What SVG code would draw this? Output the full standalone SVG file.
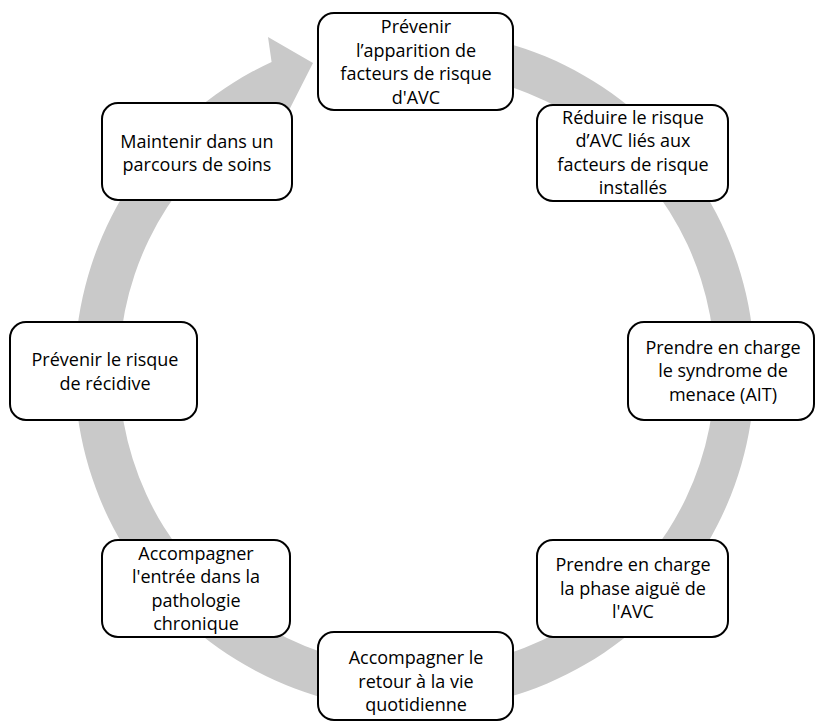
<svg xmlns="http://www.w3.org/2000/svg" width="815" height="722" viewBox="0 0 815 722">
<style>
.box{fill:#ffffff;stroke:#000000;stroke-width:2}
text{font-family:"Open Sans","Noto Sans","Liberation Sans",sans-serif;font-size:18px;fill:#000000;text-anchor:middle}
.ring{fill:#c9c9c9;stroke:none}
</style>
<g id="connectors">
<path class="ring" d="M 333.75,40.1 A 340 340 0 1 1 271.6,61.9 L 268,37 L 313,63 L 279,130 L 276.5,107 A 298 298 0 1 0 343.9,80.9 Z"/>
</g>
<g id="node1">
<rect class="box" x="318" y="13" width="195" height="97" rx="16"/>
<text x="416" y="33">Prévenir</text>
<text x="416" y="56.5">l’apparition de</text>
<text x="416" y="80">facteurs de risque</text>
<text x="416" y="103.5">d'AVC</text>
</g>
<g id="node2">
<rect class="box" x="537" y="105" width="191" height="96" rx="16"/>
<text x="633" y="123.5">Réduire le risque</text>
<text x="633" y="147">d’AVC liés aux</text>
<text x="633" y="170.5">facteurs de risque</text>
<text x="633" y="194">installés</text>
</g>
<g id="node3">
<rect class="box" x="628" y="322" width="186" height="98" rx="16"/>
<text x="723" y="353.5">Prendre en charge</text>
<text x="723" y="377">le syndrome de</text>
<text x="723" y="400.5">menace (AIT)</text>
</g>
<g id="node4">
<rect class="box" x="537" y="540" width="191" height="97" rx="16"/>
<text x="633" y="571">Prendre en charge</text>
<text x="633" y="594.5">la phase aiguë de</text>
<text x="633" y="618">l'AVC</text>
</g>
<g id="node5">
<rect class="box" x="318" y="632" width="195" height="88" rx="16"/>
<text x="416" y="664">Accompagner le</text>
<text x="416" y="687.5">retour à la vie</text>
<text x="416" y="711">quotidienne</text>
</g>
<g id="node6">
<rect class="box" x="102" y="540" width="188" height="97" rx="16"/>
<text x="196" y="559.5">Accompagner</text>
<text x="196" y="583">l'entrée dans la</text>
<text x="196" y="606.5">pathologie</text>
<text x="196" y="630">chronique</text>
</g>
<g id="node7">
<rect class="box" x="10" y="322" width="187" height="98" rx="16"/>
<text x="105" y="366">Prévenir le risque</text>
<text x="105" y="389.5">de récidive</text>
</g>
<g id="node8">
<rect class="box" x="102" y="103" width="190" height="97" rx="16"/>
<text x="197" y="147.5">Maintenir dans un</text>
<text x="197" y="171">parcours de soins</text>
</g>
</svg>
